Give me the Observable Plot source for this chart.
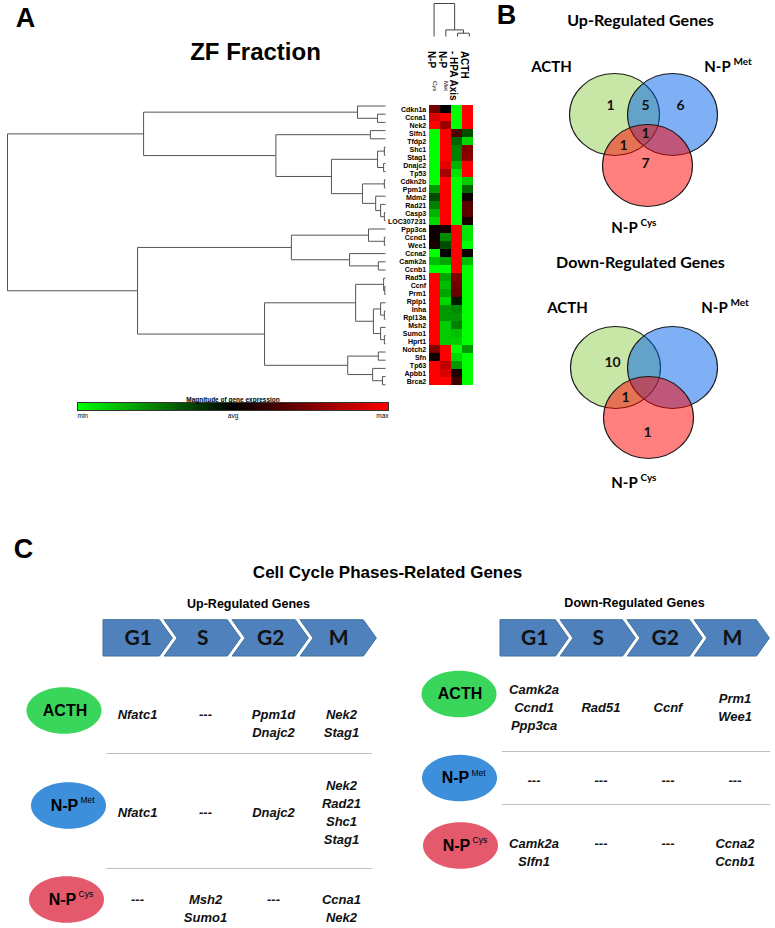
<!DOCTYPE html>
<html><head><meta charset="utf-8">
<script src="https://cdn.jsdelivr.net/npm/d3@7"></script>
<script src="https://cdn.jsdelivr.net/npm/@observablehq/plot@0.6"></script>
<style>
body{margin:0;background:#fff;}
#fig{position:relative;width:775px;height:928px;overflow:hidden;background:#fff;}
#fig svg{position:absolute;left:0;top:0;}
</style></head><body><div id="fig"></div>
<script>
// ---------------- DATA ----------------
const genes = ["Cdkn1a","Ccna1","Nek2","Slfn1","Tfdp2","Shc1","Stag1","Dnajc2","Tp53","Cdkn2b","Ppm1d","Mdm2","Rad21","Casp3","LOC307231","Ppp3ca","Ccnd1","Wee1","Ccna2","Camk2a","Ccnb1","Rad51","Ccnf","Prm1","Rplp1","Inha","Rpl13a","Msh2","Sumo1","Hprt1","Notch2","Sfn","Tp63","Apbb1","Brca2"];
const conditions = ["N-P Cys","N-P Met","- HPA Axis","ACTH"];
const colMain = ["N-P","N-P","- HPA Axis","ACTH"];
const colSup = ["Cys","Met","",""];
// relative expression, -1 = min (green), 0 = avg (black), 1 = max (red)
const exprCys  = [0.45,0.85,1,-1,-1,-1,-1,-1,-1,-1,-0.6,-0.3,-0.5,-0.7,-0.85,0.05,0.05,0.1,-1,-0.75,-1,1,1,1,1,1,1,1,1,1,0.5,0.05,1,1,1];
const exprMet  = [0,1,0.6,1,1,1,1,0.9,0.65,1,1,1,1,1,1,0.1,-0.55,-0.3,0,-0.65,-1,-0.65,-0.75,-0.65,-0.85,-0.6,-0.6,-0.8,-0.8,-0.8,1,1,0.75,0.85,1];
const exprHPA  = [-1,-1,-1,0.3,-0.4,-0.5,-0.5,-0.7,-0.9,-1,-1,-1,-1,-1,-1,1,1,1,1,1,1,0.5,0.45,0.4,-0.1,-0.55,-0.6,-0.5,-0.75,-0.8,-1,-0.85,-0.6,0.1,0.25];
const exprACTH = [1,1,1,-0.3,-0.85,0.5,0.55,1,1,-0.8,-0.4,0.05,0.35,0.35,0.1,-0.9,-0.9,-1,0.05,-0.75,-1,-1,-1,-1,-1,-1,-1,-1,-1,-1,-0.6,-1,-1,-1,-1];
// hierarchical clustering: [distance, left, right]
const rowTree = [1.0,
  [0.64,
    [0.074, "Cdkn1a", [0.021, "Ccna1", "Nek2"]],
    [0.29,
      [0.04, "Slfn1", "Tfdp2"],
      [0.143,
        [0.021, [0.003, "Shc1", "Stag1"], [0.005, "Dnajc2", "Tp53"]],
        [0.061, [0.003, "Cdkn2b", "Ppm1d"], [0.026, "Mdm2", [0.013, "Rad21", [0.003, "Casp3", "LOC307231"]]]]]]],
  [0.656,
    [0.249,
      [0.045, "Ppp3ca", [0.003, "Ccnd1", "Wee1"]],
      [0.095, "Ccna2", [0.019, "Camk2a", "Ccnb1"]]],
    [0.32,
      [0.079,
        [0.005, "Rad51", [0.002, "Ccnf", "Prm1"]],
        [0.032, [0.013, "Rplp1", [0.003, "Inha", "Rpl13a"]], [0.013, "Msh2", [0.003, "Sumo1", "Hprt1"]]]],
      [0.1, [0.019, "Notch2", "Sfn"], [0.034, "Tp63", [0.008, "Apbb1", "Brca2"]]]]]];
const colTree = [1.0, "N-P Cys", [0.2, "N-P Met", [0.1, "- HPA Axis", "ACTH"]]];
const legendTicks = [-1, 0, 1];
const legendLabels = ["min", "avg", "max"];

// Venn diagrams
const vennSets = ["ACTH", "N-P Met", "N-P Cys"];
const vennRegions = ["ACTH", "ACTH+Met", "Met", "all", "ACTH+Cys", "Cys"];
const upCounts = [1, 5, 6, 1, 1, 7];
const downCounts = [10, null, null, null, 1, 1];

// Cell-cycle tables
const phases = ["G1", "S", "G2", "M"];
const tableRows = ["ACTH", "N-P Met", "N-P Cys"];
const upACTH = [["Nfatc1"], [], ["Ppm1d","Dnajc2"], ["Nek2","Stag1"]];
const upMet  = [["Nfatc1"], [], ["Dnajc2"], ["Nek2","Rad21","Shc1","Stag1"]];
const upCys  = [[], ["Msh2","Sumo1"], [], ["Ccna1","Nek2"]];
const downACTH = [["Camk2a","Ccnd1","Ppp3ca"], ["Rad51"], ["Ccnf"], ["Prm1","Wee1"]];
const downMet  = [[], [], [], []];
const downCys  = [["Camk2a","Slfn1"], [], [], ["Ccna2","Ccnb1"]];

// ---------------- LAYOUT / STYLE ----------------
const W = 775, H = 928;
const HM = {left: 427.7, right: 474.7, top: 101.4, bottom: 388.4};
const DENDRO = {left: 7, right: 385};
const COLD = {top: 3, bottom: 36};
const LEG = {left: 77, right: 388, top: 402, bottom: 410};
const ARIAL = "Liberation Sans, Arial, sans-serif";
const CAL = "Lato, Liberation Sans, sans-serif";
const heatColor = {type: "linear", domain: [-1, 0, 1], range: ["#00ff00", "#000000", "#ff0000"]};
const vennColors = ["rgb(146,208,80)", "rgb(0,95,235)", "rgb(255,0,0)"];
const ovalColors = ["#3ad65c", "#3d8fdc", "#e45a6c"];
const base = {width: W, height: H, style: "background: transparent; overflow: visible; max-width:none;"};
const fig = document.getElementById("fig");

function layoutTree(tree, idx) {
  const segs = [];
  (function walk(node) {
    if (typeof node === "string") return {h: 0, p: idx.get(node)};
    const [h, a, b] = node;
    const A = walk(a), B = walk(b);
    segs.push({h1: h, p1: A.p, h2: h, p2: B.p});
    segs.push({h1: h, p1: A.p, h2: A.h, p2: A.p});
    segs.push({h1: h, p1: B.p, h2: B.h, p2: B.p});
    return {h, p: (A.p + B.p) / 2};
  })(tree);
  return segs;
}
function ellipseSymbol(aspect) {
  return {draw(ctx, size) {
    const rx = Math.sqrt(size / Math.PI), ry = rx * aspect, k = 0.5523;
    ctx.moveTo(rx, 0);
    ctx.bezierCurveTo(rx, k * ry, k * rx, ry, 0, ry);
    ctx.bezierCurveTo(-k * rx, ry, -rx, k * ry, -rx, 0);
    ctx.bezierCurveTo(-rx, -k * ry, -k * rx, -ry, 0, -ry);
    ctx.bezierCurveTo(k * rx, -ry, rx, -k * ry, rx, 0);
    ctx.closePath();
  }};
}

// ---------- Canvas (titles, Venn diagrams, ovals) ----------
const cm = [];
function label(text, x, y, o = {}) {
  cm.push(Plot.text([text], {x: () => x, y: () => y, text: d => d, fontFamily: ARIAL, fontWeight: "bold", fill: "#000", ...o}));
}
label("A", 25, 18, {fontSize: 27});
label("ZF Fraction", 255, 52, {fontSize: 24});
label("B", 506, 15, {fontSize: 27});
label("C", 23, 549, {fontSize: 27});
label("Cell Cycle Phases-Related Genes", 387, 572, {fontSize: 17});
label("Up-Regulated Genes", 248, 603, {fontSize: 12.5});
label("Down-Regulated Genes", 634, 602, {fontSize: 12.5});

const vennLayouts = [
  {title: "Up-Regulated Genes", ty: 20, counts: upCounts,
   circles: [[614,114],[672,114],[647,165]],
   regions: [[610,105],[645,105],[680,105],[645,133],[623,145],[645,163]],
   labels: [[551,67],[725,67],[632,228]]},
  {title: "Down-Regulated Genes", ty: 262, counts: downCounts,
   circles: [[615,367],[672,367],[648,417]],
   regions: [[612,362],[645,357],[680,357],[645,385],[625,397],[647,432]],
   labels: [[567,308],[722,308],[632,483]]}
];
const vennEllipse = ellipseSymbol(0.91);
for (const V of vennLayouts) {
  label(V.title, 640, V.ty, {fontFamily: CAL, fontSize: 16});
  vennSets.forEach((s, i) => {
    cm.push(Plot.dot([s], {x: () => V.circles[i][0], y: () => V.circles[i][1], r: 45, symbol: vennEllipse,
      fill: vennColors[i], fillOpacity: 0.5, stroke: "#1a1a1a", strokeWidth: 1.1}));
  });
  vennSets.forEach((s, i) => {
    const [x, y] = V.labels[i];
    const [main, sup] = s.startsWith("N-P") ? ["N-P", s.slice(4)] : [s, ""];
    if (sup) {
      label(main, x - 8, y, {fontFamily: CAL, fontSize: 15, textAnchor: "middle"});
      label(sup, x + 8, y - 6, {fontFamily: CAL, fontSize: 10, textAnchor: "start"});
    } else label(main, x, y, {fontFamily: CAL, fontSize: 15});
  });
  const regs = vennRegions.map((r, i) => ({r, n: V.counts[i], x: V.regions[i][0], y: V.regions[i][1]})).filter(d => d.n != null);
  cm.push(Plot.text(regs, {x: "x", y: "y", text: d => String(d.n), fontFamily: CAL, fontWeight: "bold", fontSize: 14, fill: "#111"}));
}

// table row ovals
const ovalSym = ellipseSymbol(0.62);
const ovalPos = [
  [[63.5,710],[68,805],[66,899]],
  [[458.5,693.5],[459,777.5],[460,845]]
];
for (const P of ovalPos) {
  tableRows.forEach((r, i) => {
    const [x, y] = P[i];
    cm.push(Plot.dot([r], {x: () => x, y: () => y, r: 37.5, symbol: ovalSym, fill: ovalColors[i], stroke: "none"}));
    if (r.startsWith("N-P")) {
      label("N-P", x - 4, y, {fontSize: 16, textAnchor: "middle"});
      label(r.slice(4), x + 12, y - 5, {fontSize: 8.5, textAnchor: "start", fontWeight: "normal"});
    } else label(r, x + 1, y, {fontSize: 16});
  });
}
fig.append(Plot.plot({...base, margin: 0, x: {domain: [0, W], range: [0, W], axis: null}, y: {domain: [0, H], range: [0, H], axis: null}, marks: cm}));

// ---------- Row dendrogram ----------
const rowSegs = layoutTree(rowTree, new Map(genes.map((g, i) => [g, i])));
fig.append(Plot.plot({...base,
  x: {domain: [1, 0], range: [DENDRO.left, DENDRO.right], axis: null},
  y: {domain: [-0.5, genes.length - 0.5], range: [HM.top, HM.bottom], axis: null},
  marks: [Plot.link(rowSegs, {x1: "h1", y1: "p1", x2: "h2", y2: "p2", stroke: "#555", strokeWidth: 1})]}));

// ---------- Column dendrogram ----------
const colSegs = layoutTree(colTree, new Map(conditions.map((c, i) => [c, i])));
fig.append(Plot.plot({...base,
  x: {domain: [-0.5, conditions.length - 0.5], range: [HM.left, HM.right], axis: null},
  y: {domain: [0, 1], range: [COLD.bottom, COLD.top], axis: null},
  marks: [Plot.link(colSegs, {x1: "p1", y1: "h1", x2: "p2", y2: "h2", stroke: "#444", strokeWidth: 1})]}));

// ---------- Heatmap ----------
const exprCols = [exprCys, exprMet, exprHPA, exprACTH];
const cells = genes.flatMap((g, i) => conditions.map((c, j) => ({gene: g, cond: c, v: exprCols[j][i]})));
fig.append(Plot.plot({...base,
  marginLeft: HM.left, marginRight: W - HM.right, marginTop: HM.top, marginBottom: H - HM.bottom,
  x: {domain: conditions, padding: 0, axis: null},
  y: {domain: genes, padding: 0, axis: null},
  color: heatColor,
  marks: [
    Plot.cell(cells, {x: "cond", y: "gene", fill: "v", inset: 0}),
    Plot.axisY({tickSize: 0, tickPadding: 2, fontSize: 7, fontWeight: "bold", fontFamily: ARIAL, label: null, fill: "#000"}),
    Plot.text(conditions, {x: d => d, text: (d, i) => colMain[i], frameAnchor: "top", dy: -51, rotate: 90, textAnchor: "start",
      fontSize: 10, fontWeight: "bold", fontFamily: ARIAL, fill: "#000"}),
    Plot.text(conditions, {x: d => d, text: (d, i) => colSup[i], frameAnchor: "top", dy: -21, dx: 2.5, rotate: 90, textAnchor: "start",
      fontSize: 6, fontFamily: ARIAL, fill: "#000"})
  ]}));

// ---------- Color legend ----------
fig.append(Plot.plot({...base,
  marginLeft: LEG.left, marginRight: W - LEG.right, marginTop: LEG.top, marginBottom: H - LEG.bottom,
  x: {domain: [-1, 1], axis: null}, y: {domain: [0, 1], axis: null},
  color: heatColor,
  marks: [
    Plot.raster({x1: -1, x2: 1, y1: 0, y2: 1, width: 311, height: 1, fill: (x, y) => x, imageRendering: "auto"}),
    Plot.frame({stroke: "#333", strokeWidth: 1}),
    Plot.text(["Magnitude of gene expression"], {frameAnchor: "top", dy: -5, fontSize: 6.5, fontWeight: "bold", fontFamily: ARIAL, fill: "#000"}),
    ...legendTicks.map((t, i) => Plot.text([t], {x: d => d, text: () => legendLabels[i], frameAnchor: "bottom", dy: 7,
      textAnchor: i === 0 ? "start" : i === 2 ? "end" : "middle", fontSize: 6.5, fontFamily: ARIAL, fill: "#000"}))
  ]}));

// ---------- Cell-cycle tables ----------
const tables = [
  {range: [103, 375], rowY: [705.4, 811, 890.4], anchors: ["top", "middle", "top"], seps: [753, 868], sepX: [-0.45, 3.45], rows: [upACTH, upMet, upCys]},
  {range: [500, 768], rowY: [706, 779, 834.4], anchors: ["middle", "middle", "top"], seps: [751, 804], sepX: [-0.47, 3.53], rows: [downACTH, downMet, downCys]}
];
const CHEV = {top: 620, mid: 638, bot: 656, left: -0.6, right: 0.33, point: 0.19};
for (const T of tables) {
  const pts = phases.flatMap((p, i) => {
    const L = i === 0 ? -0.5 : i + CHEV.left, R = i + CHEV.right;
    return [{p, y: CHEV.top, x1: L, x2: R}, {p, y: CHEV.mid, x1: i === 0 ? L : L + CHEV.point, x2: R + CHEV.point}, {p, y: CHEV.bot, x1: L, x2: R}];
  });
  const marks = [
    Plot.areaX(pts, {y: "y", x1: "x1", x2: "x2", z: "p", fill: "#4f81bd", stroke: "#41719c", strokeWidth: 1}),
    Plot.text(phases, {x: (d, i) => ((i === 0 ? -0.5 : i + CHEV.left) + i + CHEV.right + CHEV.point) / 2, y: () => CHEV.mid,
      text: d => d, fontSize: 21, fontWeight: "bold", fontFamily: CAL, fill: "#111"}),
    Plot.ruleY(T.seps, {y: d => d, x1: T.sepX[0], x2: T.sepX[1], stroke: "#bfbfbf", strokeWidth: 1})
  ];
  T.rows.forEach((row, r) => {
    marks.push(Plot.text(row, {x: (d, i) => i, y: () => T.rowY[r], text: d => d.length ? d.join("\n") : "---",
      lineAnchor: T.anchors[r], lineHeight: 1.38, fontSize: 13, fontWeight: "bold", fontStyle: "italic", fontFamily: ARIAL, fill: "#111"}));
  });
  fig.append(Plot.plot({...base, x: {domain: [-0.5, 3.5], range: T.range, axis: null}, y: {domain: [0, H], range: [0, H], axis: null}, marks}));
}
</script></body></html>
